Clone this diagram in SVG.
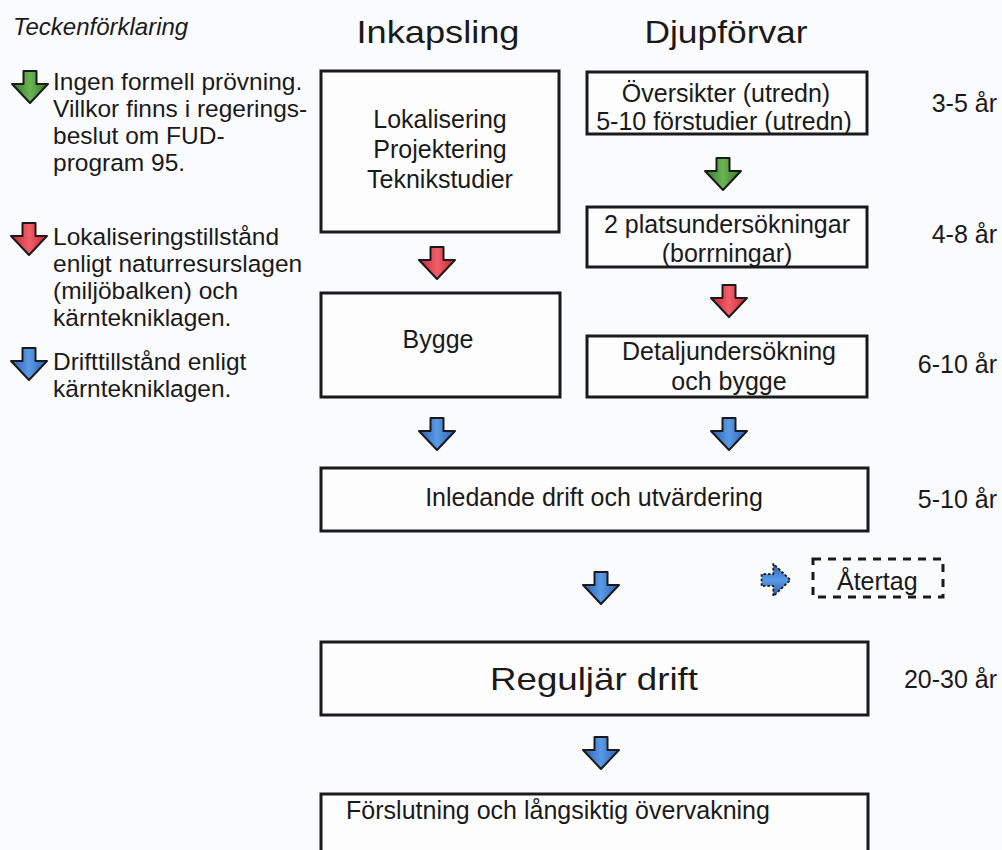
<svg xmlns="http://www.w3.org/2000/svg" width="1002" height="850" viewBox="0 0 1002 850">
<defs>
<style>
text{font-family:"Liberation Sans",Arial,sans-serif;fill:#1a1a1a}
.box{fill:#fdfdfd;stroke:#1a1a1a;stroke-width:3}
.t25{font-size:25px}
.leg{font-size:24.5px}
.mid{text-anchor:middle}
.end{text-anchor:end}
.title{font-size:32px;text-anchor:middle}
.arr{stroke:#1a1a1a;stroke-width:2;stroke-linejoin:round}
</style>
<linearGradient id="gB" x1="0" y1="0" x2="1" y2="0">
<stop offset="0" stop-color="#2a5fae"/><stop offset="0.5" stop-color="#5a9ae6"/><stop offset="1" stop-color="#2a5fae"/>
</linearGradient>
<linearGradient id="gR" x1="0" y1="0" x2="1" y2="0">
<stop offset="0" stop-color="#c8202e"/><stop offset="0.5" stop-color="#f2606a"/><stop offset="1" stop-color="#c8202e"/>
</linearGradient>
<linearGradient id="gG" x1="0" y1="0" x2="1" y2="0">
<stop offset="0" stop-color="#2f7a25"/><stop offset="0.5" stop-color="#6cb354"/><stop offset="1" stop-color="#2f7a25"/>
</linearGradient>
<path id="dn" d="M-6.5,-16 H6.5 V-3 H18 L0,16 L-18,-3 H-6.5 Z"/>
</defs>
<rect width="1002" height="850" fill="#fafbfc"/>

<g id="legend">
<text x="13" y="35" style="font-size:24px;font-style:italic">Teckenförklaring</text>
<use href="#dn" x="30" y="87" fill="url(#gG)" class="arr"/>
<text class="leg" x="53" y="90">Ingen formell prövning.</text>
<text class="leg" x="53" y="117">Villkor finns i regerings-</text>
<text class="leg" x="53" y="144">beslut om FUD-</text>
<text class="leg" x="53" y="171">program 95.</text>
<use href="#dn" x="29" y="239" fill="url(#gR)" class="arr"/>
<text class="leg" x="53" y="245">Lokaliseringstillstånd</text>
<text class="leg" x="53" y="272">enligt naturresurslagen</text>
<text class="leg" x="53" y="299">(miljöbalken) och</text>
<text class="leg" x="53" y="326">kärntekniklagen.</text>
<use href="#dn" x="29" y="364" fill="url(#gB)" class="arr"/>
<text class="leg" x="53" y="370">Drifttillstånd enligt</text>
<text class="leg" x="53" y="397">kärntekniklagen.</text>
</g>

<g id="headers">
<text class="title" x="438" y="43" textLength="163" lengthAdjust="spacingAndGlyphs">Inkapsling</text>
<text class="title" x="726" y="43" textLength="163" lengthAdjust="spacingAndGlyphs">Djupförvar</text>
</g>

<g id="n-inkapsling">
<rect class="box" x="321" y="71" width="238" height="161"/>
<text class="t25 mid" x="440" y="128">Lokalisering</text>
<text class="t25 mid" x="440" y="158">Projektering</text>
<text class="t25 mid" x="440" y="188">Teknikstudier</text>
</g>
<g id="n-oversikter">
<rect class="box" x="587" y="72" width="280" height="62"/>
<text class="t25 mid" x="726" y="102">Översikter (utredn)</text>
<text class="t25 mid" x="724" y="130">5-10 förstudier (utredn)</text>
</g>
<g id="n-plats">
<rect class="box" x="587" y="207" width="280" height="60"/>
<text class="t25 mid" x="727" y="233">2 platsundersökningar</text>
<text class="t25 mid" x="727" y="262">(borrningar)</text>
</g>
<g id="n-bygge">
<rect class="box" x="321" y="293" width="239" height="104"/>
<text class="t25 mid" x="438" y="348">Bygge</text>
</g>
<g id="n-detalj">
<rect class="box" x="587" y="336" width="280" height="61"/>
<text class="t25 mid" x="729" y="360">Detaljundersökning</text>
<text class="t25 mid" x="729" y="390">och bygge</text>
</g>
<g id="n-inledande">
<rect class="box" x="321" y="468" width="547" height="63"/>
<text class="t25 mid" x="594" y="506">Inledande drift och utvärdering</text>
</g>
<g id="n-atertag">
<rect x="813" y="559" width="130" height="38" fill="none" stroke="#1a1a1a" stroke-width="3" stroke-dasharray="8,7"/>
<text class="t25" x="837" y="590">Återtag</text>
</g>
<g id="n-reguljar">
<rect class="box" x="321" y="642" width="547" height="73"/>
<text x="594" y="690" class="mid" style="font-size:32px" textLength="208" lengthAdjust="spacingAndGlyphs">Reguljär drift</text>
</g>
<g id="n-forslutning">
<rect class="box" x="321" y="794" width="547" height="70"/>
<text class="t25 mid" x="558" y="819">Förslutning och långsiktig övervakning</text>
</g>

<g id="years">
<text class="t25 end" x="997" y="112">3-5 år</text>
<text class="t25 end" x="997" y="243">4-8 år</text>
<text class="t25 end" x="997" y="373">6-10 år</text>
<text class="t25 end" x="997" y="508">5-10 år</text>
<text class="t25 end" x="997" y="688">20-30 år</text>
</g>

<g id="connectors">
<use href="#dn" x="723" y="174" fill="url(#gG)" class="arr"/>
<use href="#dn" x="437" y="263" fill="url(#gR)" class="arr"/>
<use href="#dn" x="729" y="301" fill="url(#gR)" class="arr"/>
<use href="#dn" x="437" y="434" fill="url(#gB)" class="arr"/>
<use href="#dn" x="729" y="434" fill="url(#gB)" class="arr"/>
<use href="#dn" x="601" y="588" fill="url(#gB)" class="arr"/>
<use href="#dn" x="601" y="753" fill="url(#gB)" class="arr"/>
<use href="#dn" transform="translate(776,580) rotate(-90) scale(0.9)" fill="url(#gB)" class="arr" stroke-dasharray="3,2"/>
</g>
</svg>
